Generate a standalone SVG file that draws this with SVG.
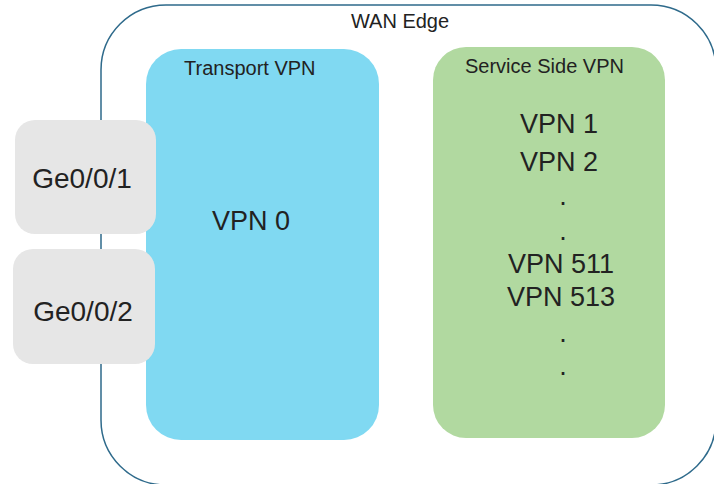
<svg xmlns="http://www.w3.org/2000/svg" width="714" height="484" viewBox="0 0 714 484">
<style>
text{font-family:"Liberation Sans",Arial,Helvetica,sans-serif;fill:#222}
.sm{font-size:20px}
.lg{font-size:27px}
.ge{font-size:28px;text-anchor:middle}
.mid{text-anchor:middle}
.port{fill:#e6e6e6}
</style>
<rect width="714" height="484" fill="#ffffff"/>
<g id="wan-edge">
<rect x="101" y="5" width="615" height="480" rx="65" ry="65" fill="none" stroke="#2e6a8b" stroke-width="1.5"/>
<text class="sm mid" x="400" y="28">WAN Edge</text>
</g>
<g id="transport-vpn">
<rect x="146" y="49" width="233" height="391" rx="35" ry="35" fill="#80d9f2"/>
<text class="sm" x="184" y="75">Transport VPN</text>
<text class="lg" x="212" y="230">VPN 0</text>
</g>
<g id="service-vpn">
<rect x="433" y="47" width="232" height="391" rx="33" ry="33" fill="#b1d9a0"/>
<text class="sm" x="465" y="73">Service Side VPN</text>
<text class="lg mid" x="559" y="133">VPN 1</text>
<text class="lg mid" x="559" y="171">VPN 2</text>
<text class="lg mid" x="563" y="205">.</text>
<text class="lg mid" x="563" y="240">.</text>
<text class="lg mid" x="561" y="273">VPN 511</text>
<text class="lg mid" x="561" y="306">VPN 513</text>
<text class="lg mid" x="563" y="342">.</text>
<text class="lg mid" x="563" y="375">.</text>
</g>
<g id="ge001">
<rect class="port" x="15" y="120" width="141" height="114" rx="20" ry="20"/>
<text class="ge" x="82" y="188">Ge0/0/1</text>
</g>
<g id="ge002">
<rect class="port" x="13" y="249" width="142" height="115" rx="20" ry="20"/>
<text class="ge" x="83" y="321">Ge0/0/2</text>
</g>
<g id="connectors"></g>
</svg>
